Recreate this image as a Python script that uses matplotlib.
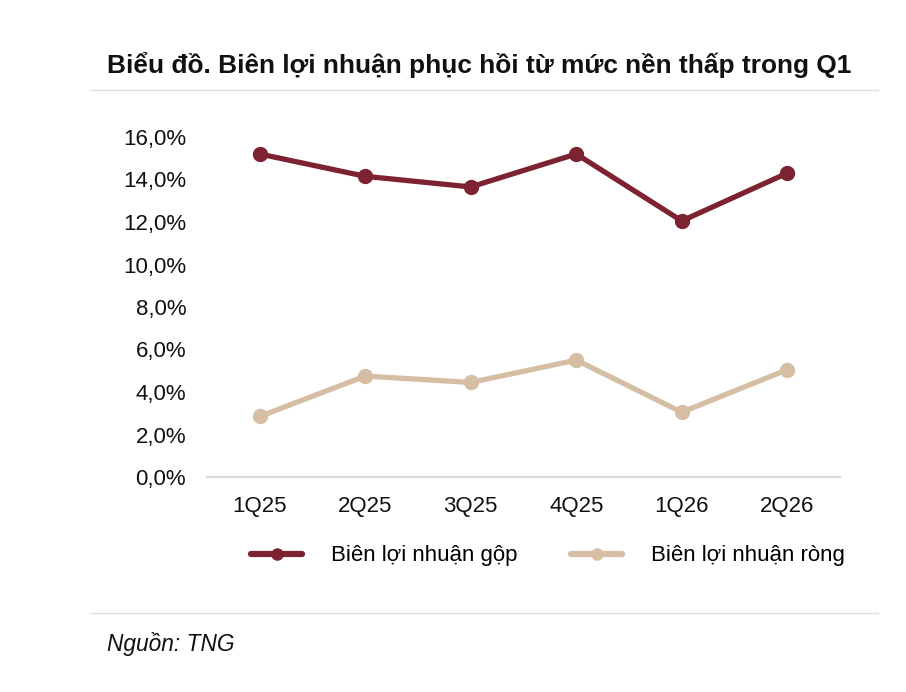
import matplotlib.pyplot as plt
from matplotlib.lines import Line2D
from matplotlib.ticker import FuncFormatter

plt.rcParams['font.family'] = ['Liberation Sans', 'DejaVu Sans']

quarters = ["1Q25", "2Q25", "3Q25", "4Q25", "1Q26", "2Q26"]
gross_margin = [15.2, 14.15, 13.65, 15.2, 12.05, 14.3]
net_margin = [2.85, 4.75, 4.45, 5.5, 3.05, 5.05]
y_ticks = [0, 2, 4, 6, 8, 10, 12, 14, 16]

GROSS_COLOR = "#7d2231"
NET_COLOR = "#d5bea3"
SEP_COLOR = "#dddddd"

fig = plt.figure(figsize=(9.06, 6.92), dpi=100)
ax = fig.add_axes([207 / 906, 1 - 477 / 692, (840 - 207) / 906, (477 - 137) / 692])

x = range(len(quarters))
ax.plot(x, gross_margin, color=GROSS_COLOR, lw=3.8, marker="o", ms=10,
        solid_capstyle="round", label="Biên lợi nhuận gộp")
ax.plot(x, net_margin, color=NET_COLOR, lw=3.8, marker="o", ms=10,
        solid_capstyle="round", label="Biên lợi nhuận ròng")

ax.set_xlim(-0.5, len(quarters) - 0.5)
ax.set_ylim(0, 16)
ax.set_xticks(list(x))
ax.set_xticklabels(quarters)
ax.set_yticks(y_ticks)
ax.yaxis.set_major_formatter(FuncFormatter(lambda v, p: f"{v:.1f}%".replace(".", ",")))
ax.tick_params(axis="both", length=0, labelsize=16, colors="#111111")
ax.tick_params(axis="y", pad=15)
ax.tick_params(axis="x", pad=14)
for side in ["top", "right", "left"]:
    ax.spines[side].set_visible(False)
ax.spines["bottom"].set_color("#d9d9d9")
ax.spines["bottom"].set_linewidth(1.5)
for ln in ax.lines:
    ln.set_clip_on(False)

# legend
handles = [
    Line2D([], [], color=GROSS_COLOR, lw=4.5, marker="o", ms=8, solid_capstyle="round"),
    Line2D([], [], color=NET_COLOR, lw=4.5, marker="o", ms=8, solid_capstyle="round"),
]
fig.legend(handles, ["Biên lợi nhuận gộp", "Biên lợi nhuận ròng"],
           loc="center", bbox_to_anchor=(548 / 906, 1 - 556 / 692), ncol=2,
           frameon=False, fontsize=16, handlelength=2.3, columnspacing=2.4,
           handletextpad=1.3)

# title, separators, source
fig.text(107 / 906, 1 - 65 / 692, "Biểu đồ. Biên lợi nhuận phục hồi từ mức nền thấp trong Q1",
         fontsize=18.9, fontweight="bold", va="center", ha="left", color="#111111")
fig.add_artist(Line2D([90 / 906, 878 / 906], [1 - 90 / 692, 1 - 90 / 692],
                      color=SEP_COLOR, lw=1))
fig.add_artist(Line2D([90 / 906, 878 / 906], [1 - 613 / 692, 1 - 613 / 692],
                      color=SEP_COLOR, lw=1))
fig.text(107 / 906, 1 - 644 / 692, "Nguồn: TNG", fontsize=16.4, style="italic",
         va="center", ha="left", color="#111111")

fig.savefig("out.png", dpi=100, facecolor="white")
